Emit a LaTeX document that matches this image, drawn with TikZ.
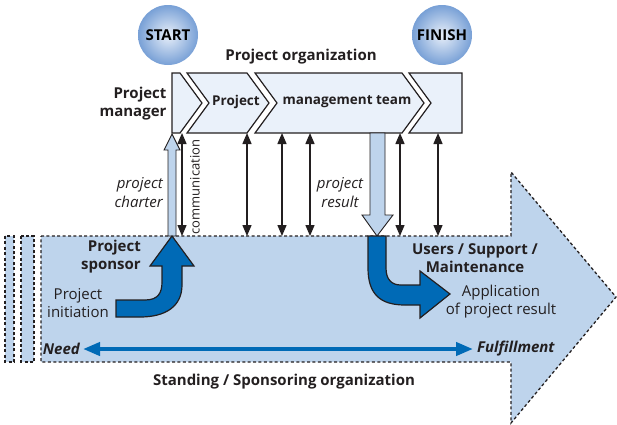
\documentclass[tikz,border=0pt]{standalone}
\usepackage{fontspec}
\setmainfont{Open Sans}
\usetikzlibrary{arrows.meta}
\definecolor{bodyblue}{RGB}{190,212,236}
\definecolor{chevblue}{RGB}{234,241,250}
\definecolor{deepblue}{RGB}{0,106,182}
\definecolor{ballblue}{RGB}{120,160,214}
\definecolor{ballcore}{RGB}{232,239,249}
\definecolor{inkblack}{RGB}{35,31,32}
\begin{document}
\begin{tikzpicture}
[x=1pt,y=-1pt,
  balldecorate/.style={shape=circle,minimum size=60pt,inner sep=0pt,
    inner color=ballcore,outer color=ballblue,font=\fontsize{15}{18}\selectfont\bfseries},%
  chevdecorate/.style={fill=chevblue,draw=inkblack,line width=1.2pt,line join=miter},%
  dashdecorate/.style={fill=bodyblue,draw=inkblack,line width=1.3pt,dash pattern=on 3pt off 2.4pt},%
  linkdecorate/.style={{Triangle[width=9pt,length=11pt]}-{Triangle[width=9pt,length=11pt]},line width=1.4pt,inkblack},%
  hollowdecorate/.style={fill=bodyblue,draw=inkblack,line width=0.9pt,line join=miter},%
  bluedecorate/.style={fill=deepblue,draw=inkblack,line width=1.2pt,line join=miter},%
  boldtext/.style={font=\fontsize{15}{18}\selectfont\bfseries,align=center,inner sep=0pt,text=inkblack},%
  plaintext/.style={font=\fontsize{15}{18}\selectfont,align=center,inner sep=0pt,text=inkblack},%
  slanttext/.style={font=\fontsize{15}{19}\selectfont\itshape,inner sep=0pt,text=inkblack}]
\useasboundingbox (0,0) rectangle (617,424);
%% standing organization (big arrow)
\draw[dashdecorate] (41,236) -- (511,236) -- (511,172) -- (616,297) -- (511,423)
  -- (511,362) -- (41,362) -- cycle;
\draw[dashdecorate] (5,236) rectangle (14,362);
\draw[dashdecorate] (21,236) rectangle (34,362);
%% project organization (chevrons)
\draw[chevdecorate] (172,73) -- (180,73) -- (202,103) -- (180,133) -- (172,133) -- cycle;
\draw[chevdecorate] (187,73) -- (247,73) -- (269,103) -- (247,133) -- (187,133) -- (209,103) -- cycle;
\draw[chevdecorate] (255,73) -- (402,73) -- (424,103) -- (402,133) -- (255,133) -- (277,103) -- cycle;
\draw[chevdecorate] (409,73) -- (462,73) -- (462,133) -- (409,133) -- (431,103) -- cycle;
%% start and finish
\node (start) at (168,35) [balldecorate] {START};
\node (finish) at (442,35) [balldecorate] {FINISH};
%% texts
\node (porg) at (301,57) [boldtext] {Project organization};
\node (pmanager) at (133,104) [boldtext,align=right] {Project\\manager};
\node (pteam1) at (236,102) [boldtext,font=\fontsize{13.5}{16}\selectfont\bfseries] {Project};
\node (pteam2) at (347,102) [boldtext,font=\fontsize{13.5}{16}\selectfont\bfseries] {management team};
\node (charter) [slanttext,align=right,anchor=east] at (163,193) {project\\charter};
\node (result) [slanttext,align=center] at (340,193) {project\\result};
\node (comm) [plaintext,font=\fontsize{13}{15}\selectfont,rotate=90] at (195,187) {communication};
\node (sponsor) [boldtext,align=right,anchor=east] at (141,257) {Project\\sponsor};
\node (initiation) [plaintext] at (78,303) {Project\\initiation};
\node (users) [boldtext] at (475,258) {Users / Support /\\Maintenance};
\node (application) [plaintext] at (501,302) {Application\\of project result};
\node (need) [boldtext,font=\fontsize{15}{18}\selectfont\bfseries\itshape,anchor=east] at (80,349) {Need};
\node (fulfil) [boldtext,font=\fontsize{15}{18}\selectfont\bfseries\itshape,anchor=west] at (477,349) {Fulfillment};
\node (standing) [boldtext] at (284,382) {Standing / Sponsoring organization};
%% need to fulfillment
\draw[deepblue,line width=4pt,{Triangle[width=13pt,length=17pt]}-{Triangle[width=13pt,length=17pt]},
  shorten <=3pt,shorten >=4pt] (need) -- (fulfil);
%% communication lines
\foreach \linkname/\x in {c0/182, c1/247, c2/282, c3/310, c4/400, c5/438}
{
  \coordinate (\linkname-top) at (\x,133);
  \coordinate (\linkname-bot) at (\x,236);
}
\path
\foreach \linkname in {c0,c1,c2,c3,c4,c5}
{
  (\linkname-top) edge[linkdecorate] (\linkname-bot)
};
%% project charter and project result
\draw[hollowdecorate] (168,236) -- (168,150) -- (164,150) -- (172,134) -- (180,150)
  -- (176,150) -- (176,236) -- cycle;
\draw[hollowdecorate] (370,133) -- (370,215) -- (362,215) -- (377,236) -- (393,215)
  -- (385,215) -- (385,133) -- cycle;
%% sponsor and application arrows
\draw[bluedecorate] (116,300) -- (145,300) .. controls (158,300) and (162,293) .. (162,282)
  -- (162,266) -- (150,266) -- (172,236) -- (194,266) -- (182,266) -- (182,285)
  .. controls (182,306) and (166,317) .. (140,317) -- (116,317) -- cycle;
\draw[bluedecorate] (368,236) -- (368,268) .. controls (368,294) and (380,305) .. (405,305)
  -- (420,305) -- (420,318) -- (450,294) -- (420,271) -- (420,285) -- (401,285)
  .. controls (392,285) and (386,280) .. (386,268) -- (386,236) -- cycle;
\end{tikzpicture}
\end{document}
